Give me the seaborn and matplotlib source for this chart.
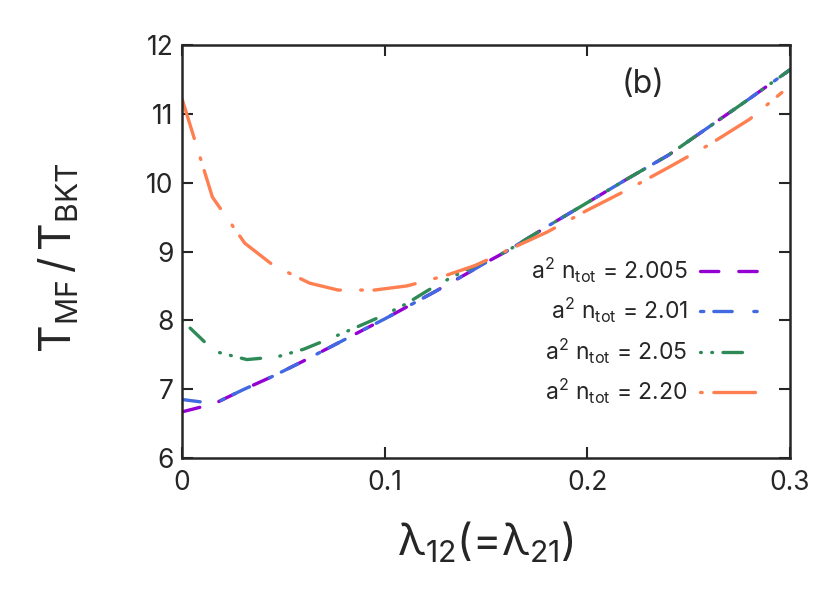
import numpy as np
import pandas as pd
import matplotlib
matplotlib.use("Agg")
import matplotlib.pyplot as plt
from matplotlib.lines import Line2D
import seaborn as sns

# ---- data ----
lam_2005 = [0, 0.016, 0.03, 0.045, 0.06, 0.075, 0.09, 0.1, 0.11, 0.125, 0.14, 0.15,
            0.16, 0.18, 0.2, 0.22, 0.24, 0.26, 0.28, 0.3]
val_2005 = [6.67, 6.79, 6.99, 7.19, 7.41, 7.64, 7.87, 8.02, 8.18, 8.42, 8.67, 8.84,
            9.00, 9.36, 9.71, 10.06, 10.40, 10.81, 11.22, 11.64]
lam_201 = [0, 0.016, 0.03, 0.045, 0.06, 0.075, 0.09, 0.1, 0.11, 0.125, 0.14, 0.15,
           0.16, 0.18, 0.2, 0.22, 0.24, 0.26, 0.28, 0.3]
val_201 = [6.85, 6.79, 6.99, 7.19, 7.41, 7.64, 7.87, 8.02, 8.18, 8.42, 8.67, 8.84,
           9.00, 9.36, 9.71, 10.06, 10.40, 10.81, 11.22, 11.64]
lam_205 = [0, 0.016, 0.032, 0.047, 0.06, 0.075, 0.09, 0.1, 0.11, 0.125, 0.14, 0.155,
           0.16, 0.18, 0.2, 0.22, 0.24, 0.26, 0.28, 0.3]
val_205 = [8.00, 7.55, 7.43, 7.47, 7.58, 7.76, 7.95, 8.08, 8.23, 8.50, 8.73, 8.93,
           9.00, 9.36, 9.71, 10.06, 10.40, 10.81, 11.22, 11.64]
lam_220 = [0, 0.015, 0.031, 0.045, 0.063, 0.077, 0.095, 0.111, 0.13, 0.145, 0.16,
           0.18, 0.2, 0.22, 0.24, 0.26, 0.28, 0.296]
val_220 = [11.22, 9.79, 9.12, 8.80, 8.54, 8.44, 8.44, 8.50, 8.65, 8.80, 9.01,
           9.28, 9.60, 9.90, 10.22, 10.55, 10.92, 11.31]

labels = [r"$\mathrm{a^2\ n_{tot}}$ = 2.005",
          r"$\mathrm{a^2\ n_{tot}}$ = 2.01",
          r"$\mathrm{a^2\ n_{tot}}$ = 2.05",
          r"$\mathrm{a^2\ n_{tot}}$ = 2.20"]
colors = ["#9400D3", "#4169E1", "#2E8B57", "#FF7F50"]
x_ticks = [0, 0.1, 0.2, 0.3]
x_ticklabels = ["0", "0.1", "0.2", "0.3"]
y_ticks = [6, 7, 8, 9, 10, 11, 12]

frames = []
for lab, xs, ys in zip(labels, [lam_2005, lam_201, lam_205, lam_220],
                       [val_2005, val_201, val_205, val_220]):
    frames.append(pd.DataFrame({"lam": xs, "T": ys, "series": lab}))
df = pd.concat(frames, ignore_index=True)

# ---- style ----
sns.set_style("ticks")
plt.rcParams["font.family"] = ["Inter", "DejaVu Sans"]
plt.rcParams["mathtext.fontset"] = "custom"
plt.rcParams["mathtext.rm"] = "Inter"
plt.rcParams["mathtext.it"] = "Inter:italic"
plt.rcParams["mathtext.bf"] = "Inter:bold"
plt.rcParams["lines.scale_dashes"] = False
plt.rcParams["lines.dash_capstyle"] = "round"
plt.rcParams["lines.solid_capstyle"] = "round"

patterns = [
    (13.2, 14.4),
    (2.4, 7.2, 13.2, 15.6),
    (14.0, 14.0, 0.6, 7.5, 0.6, 7.5),
    (30.0, 14.6, 1.2, 8.4),
]
plot_offsets = [0, 9.6, 36.1, 0]
legend_offsets = [0, 0, 28.0, 44.6]
dashes = dict(zip(labels, patterns))

fig = plt.figure(figsize=(8.3, 5.95), dpi=100)
ax = fig.add_axes([182 / 830, 1 - 458 / 595, 608 / 830, 413 / 595])

sns.lineplot(data=df, x="lam", y="T", hue="series", style="series",
             hue_order=labels, style_order=labels,
             palette=dict(zip(labels, colors)), dashes=dashes,
             sort=False, estimator=None, linewidth=2.4, ax=ax, legend=False)

for line, pat, off in zip(ax.get_lines()[:4], patterns, plot_offsets):
    line.set_linestyle((off, pat))

ax.set_xlim(0, 0.3)
ax.set_ylim(6, 12)
ax.set_xticks(x_ticks)
ax.set_xticklabels(x_ticklabels)
ax.set_yticks(y_ticks)
ax.tick_params(direction="in", length=8, width=1.5, labelsize=19,
               top=True, right=True)
ax.tick_params(axis="x", pad=9)
ax.tick_params(axis="y", pad=6)
for sp in ax.spines.values():
    sp.set_linewidth(1.8)
    sp.set_visible(True)

ax.set_xlabel(r"$\mathrm{\lambda_{12}}$(=$\mathrm{\lambda_{21}}$)", fontsize=31, labelpad=17)
ax.set_ylabel(r"$\mathrm{T_{MF}\,/\,T_{BKT}}$", fontsize=31, labelpad=47)
ax.yaxis.label.set_y(0.485)

ax.text(0.2274, 11.42, "(b)", fontsize=23, ha="center", va="center")

handles = [Line2D([], [], color=c, lw=2.4, linestyle=(off, pat))
           for c, pat, off in zip(colors, patterns, legend_offsets)]
leg = ax.legend(handles, labels, loc="upper right", bbox_to_anchor=(0.9507, 0.49),
                bbox_transform=ax.transAxes, frameon=False, markerfirst=False,
                fontsize=16.5, handlelength=2.6, handletextpad=0.55,
                labelspacing=0.5, borderpad=0, borderaxespad=0)

fig.savefig("out.png", dpi=100, facecolor="white")
